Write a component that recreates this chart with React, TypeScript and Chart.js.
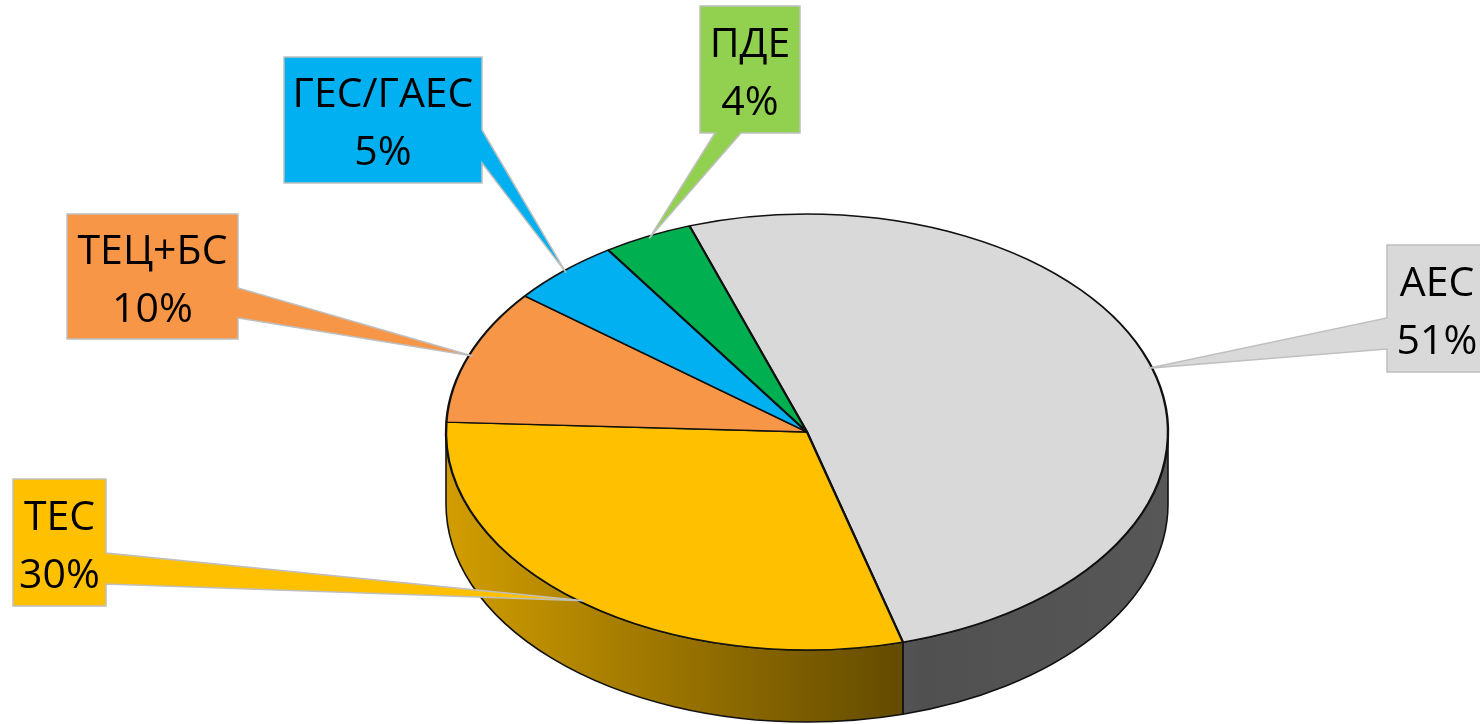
import React, { useEffect, useRef } from "react";
import { Chart, registerables } from "chart.js";

Chart.register(...registerables);

// ---- data ----
const LABELS = ["АЕС", "ТЕС", "ТЕЦ+БС", "ГЕС/ГАЕС", "ПДЕ"];
const VALUES = [51, 30, 10, 5, 4];
const TOP_COLORS = ["#D9D9D9", "#FFC000", "#F79646", "#00B0F0", "#00B050"];
const BOX_COLORS = ["#D9D9D9", "#FFC000", "#F79646", "#00B0F0", "#92D050"];

// ---- layout (positions / styles) ----
const W = 1480;
const H = 724;
const CX = 807; // ellipse centre of pie top face
const CY = 432;
const RX = 361;
const RY = 218;
const DEPTH = 72;
const ROTATION = -19;
const FONT = '41px "Open Sans"';

type Box = { x0: number; y0: number; x1: number; y1: number; side: "left" | "right" | "bottom"; b1: number; b2: number };
const BOXES: Box[] = [
  { x0: 1387, y0: 245, x1: 1487, y1: 372, side: "left", b1: 318, b2: 349 },
  { x0: 13, y0: 479, x1: 106, y1: 606, side: "right", b1: 553, b2: 584 },
  { x0: 67, y0: 214, x1: 238, y1: 339, side: "right", b1: 288, b2: 318 },
  { x0: 284, y0: 57, x1: 482, y1: 183, side: "right", b1: 130, b2: 163 },
  { x0: 700, y0: 6, x1: 800, y1: 133, side: "bottom", b1: 715, b2: 741 },
];

function shade(hex: string, f: number) {
  const n = parseInt(hex.slice(1), 16);
  const r = Math.round(((n >> 16) & 255) * f);
  const g = Math.round(((n >> 8) & 255) * f);
  const b = Math.round((n & 255) * f);
  return `rgb(${r},${g},${b})`;
}

const pie3d = {
  id: "pie3d",
  beforeDatasetsDraw(chart: any) {
    const ctx = chart.ctx as CanvasRenderingContext2D;
    const arcs = chart.getDatasetMeta(0).data as any[];
    if (!arcs.length) return;
    // sides
    arcs.forEach((arc, i) => {
      const s = arc.startAngle;
      const e = arc.endAngle;
      for (let k = -1; k <= 1; k++) {
        const lo = Math.max(s, 2 * Math.PI * k);
        const hi = Math.min(e, 2 * Math.PI * k + Math.PI);
        if (lo >= hi) continue;
        const grad = ctx.createLinearGradient(CX - RX, 0, CX + RX, 0);
        const base = TOP_COLORS[i];
        grad.addColorStop(0, shade(base, 0.82));
        grad.addColorStop(0.66, shade(base, 0.37));
        grad.addColorStop(1, shade(base, 0.4));
        ctx.save();
        ctx.beginPath();
        ctx.ellipse(CX, CY, RX, RY, 0, lo, hi, false);
        ctx.lineTo(CX + RX * Math.cos(hi), CY + RY * Math.sin(hi) + DEPTH);
        ctx.ellipse(CX, CY + DEPTH, RX, RY, 0, hi, lo, true);
        ctx.closePath();
        ctx.fillStyle = grad;
        ctx.fill();
        ctx.lineWidth = 1.6;
        ctx.strokeStyle = "#111";
        ctx.lineJoin = "round";
        ctx.stroke();
        ctx.restore();
      }
    });
    const a0 = arcs[0];
    const R = a0.outerRadius;
    ctx.save();
    ctx.translate(CX, CY);
    ctx.scale(RX / R, RY / R);
    ctx.translate(-a0.x, -a0.y);
  },
  afterDatasetsDraw(chart: any) {
    const ctx = chart.ctx as CanvasRenderingContext2D;
    ctx.restore();
    const arcs = chart.getDatasetMeta(0).data as any[];
    const total = VALUES.reduce((a, b) => a + b, 0);
    arcs.forEach((arc, i) => {
      const b = BOXES[i];
      const m = (arc.startAngle + arc.endAngle) / 2;
      const tx = CX + RX * 0.99 * Math.cos(m);
      const ty = CY + RY * 0.99 * Math.sin(m);
      ctx.save();
      ctx.beginPath();
      if (b.side === "right") {
        ctx.moveTo(b.x0, b.y0);
        ctx.lineTo(b.x1, b.y0);
        ctx.lineTo(b.x1, b.b1);
        ctx.lineTo(tx, ty);
        ctx.lineTo(b.x1, b.b2);
        ctx.lineTo(b.x1, b.y1);
        ctx.lineTo(b.x0, b.y1);
      } else if (b.side === "left") {
        ctx.moveTo(b.x0, b.y0);
        ctx.lineTo(b.x1, b.y0);
        ctx.lineTo(b.x1, b.y1);
        ctx.lineTo(b.x0, b.y1);
        ctx.lineTo(b.x0, b.b2);
        ctx.lineTo(tx, ty);
        ctx.lineTo(b.x0, b.b1);
      } else {
        ctx.moveTo(b.x0, b.y0);
        ctx.lineTo(b.x1, b.y0);
        ctx.lineTo(b.x1, b.y1);
        ctx.lineTo(b.b2, b.y1);
        ctx.lineTo(tx, ty);
        ctx.lineTo(b.b1, b.y1);
        ctx.lineTo(b.x0, b.y1);
      }
      ctx.closePath();
      ctx.fillStyle = BOX_COLORS[i];
      ctx.fill();
      ctx.lineWidth = 1.5;
      ctx.strokeStyle = "#BFBFBF";
      ctx.lineJoin = "miter";
      ctx.stroke();
      const cx = (b.x0 + b.x1) / 2;
      const cy = (b.y0 + b.y1) / 2;
      ctx.fillStyle = "#000";
      ctx.font = FONT;
      ctx.textAlign = "center";
      ctx.textBaseline = "alphabetic";
      ctx.fillText(LABELS[i], cx, cy - 13);
      ctx.fillText(`${Math.round((VALUES[i] / total) * 100)}%`, cx, cy + 45);
      ctx.restore();
    });
  },
};

export default function App() {
  const ref = useRef<HTMLCanvasElement | null>(null);
  useEffect(() => {
    if (!ref.current) return;
    const chart = new Chart(ref.current, {
      type: "pie",
      data: {
        labels: LABELS,
        datasets: [
          {
            data: VALUES,
            backgroundColor: TOP_COLORS,
            borderColor: "#111",
            borderWidth: 2.4,
            clip: false as any,
          } as any,
        ],
      },
      options: {
        responsive: false,
        animation: false,
        devicePixelRatio: 1,
        rotation: ROTATION,
        layout: { padding: { left: CX - RX, right: W - (CX + RX), top: 0, bottom: 0 } },
        plugins: { legend: { display: false }, tooltip: { enabled: false } },
      } as any,
      plugins: [pie3d],
    });
    return () => chart.destroy();
  }, []);
  return (
    <div style={{ position: "fixed", left: 0, top: 0, width: W, height: H, background: "#fff" }}>
      <canvas ref={ref} width={W} height={H} style={{ display: "block" }} />
    </div>
  );
}
